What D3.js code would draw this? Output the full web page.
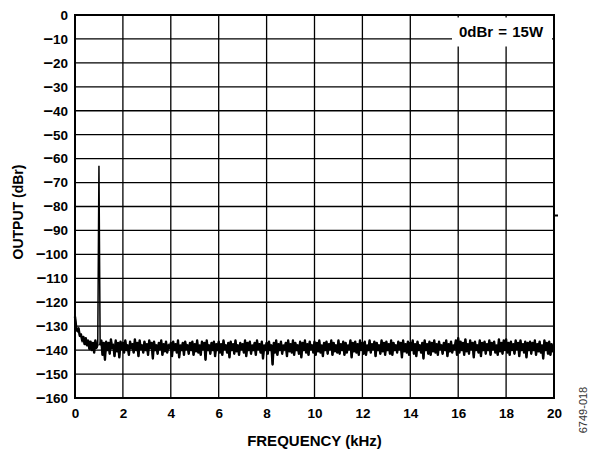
<!DOCTYPE html>
<html>
<head>
<meta charset="utf-8">
<script src="https://cdn.jsdelivr.net/npm/d3@7"></script>
<style>
  body { margin: 0; background: #fff; }
  svg text { font-family: "Liberation Sans", Arial, sans-serif; }
  .tick text { font-weight: bold; font-size: 13.5px; fill: #000; }
  .domain { display: none; }
</style>
</head>
<body>
<svg id="chart" width="589" height="450"></svg>
<script>
// frequency axis (kHz) and output axis (dBr)
const xTicks = [0, 2, 4, 6, 8, 10, 12, 14, 16, 18, 20]
const yTicks = [0, -10, -20, -30, -40, -50, -60, -70, -80, -90, -100, -110, -120, -130, -140, -150, -160]

// FFT output, one point every 0.05 kHz from 0 to 20 kHz
const freqStep = 0.05
const outputDbr = [
  -126, -130.5, -132, -131, -134, -133.5, -136, -134.5, -137.5, -135, -138, -136, -139.5, -136.5, -140, -137, -141, -136, -139, -137.5,
  -63, -138, -136, -142, -137, -144, -136.5, -140, -137, -141.5, -135.5, -139, -138, -142.5, -136, -140.5, -137, -143, -136.5, -139.5,
  -137, -141, -136, -140, -138, -142, -136.5, -139, -137.5, -141, -135.5, -140, -137, -142.5, -136, -139.5, -138, -141, -136.5, -140,
  -137.5, -142, -136, -139, -137, -143.5, -136.5, -140, -138, -141.5, -137, -139.5, -136, -142, -137.5, -140.5, -136.5, -141, -138, -139,
  -137, -142.5, -136.5, -140, -137.5, -141, -136, -143, -138, -140, -137, -142, -136.5, -139.5, -138, -141.5, -137, -140, -136.5, -142,
  -137.5, -140.5, -136, -141, -138, -142, -136.5, -139.5, -137, -144, -136, -140, -138, -141.5, -137, -140, -136.5, -142.5, -137.5, -140,
  -136.5, -141, -137.5, -142, -136, -139.5, -138, -141, -137, -143, -136.5, -140, -137.5, -141.5, -136, -140.5, -138, -142, -137, -139.5,
  -137.5, -141, -136, -142.5, -137, -140, -136.5, -141.5, -138, -140, -137, -142, -136, -139.5, -137.5, -141, -136.5, -143.5, -138, -140,
  -137, -141.5, -136.5, -140, -138, -146, -137, -141, -136, -142, -137.5, -140, -136.5, -141.5, -138, -139.5, -137, -142.5, -136, -140.5,
  -137.5, -141, -136, -142, -137, -140, -138, -141.5, -136.5, -143, -137, -140, -136, -141, -137.5, -142, -136.5, -139.5, -138, -141,
  -136.5, -142, -137, -140.5, -136, -141, -138, -142.5, -137, -140, -136.5, -141.5, -137.5, -139.5, -136, -142, -137, -140.5, -138, -141,
  -136, -141.5, -137.5, -140, -136.5, -142, -137, -141, -138, -139.5, -136, -143, -137, -140.5, -136.5, -141, -137.5, -142, -136, -140,
  -137, -141.5, -136.5, -142, -138, -140, -136, -141, -137.5, -139.5, -136.5, -142.5, -137, -140, -138, -141.5, -136, -140.5, -137, -142,
  -136.5, -140, -137.5, -141.5, -136, -142, -137, -140, -138, -141, -136.5, -139.5, -137, -143, -136, -140.5, -137.5, -141, -136.5, -142,
  -137, -140, -136, -141.5, -137.5, -142.5, -136.5, -140, -138, -141, -137, -143.5, -136, -140, -137.5, -141.5, -136.5, -142, -137, -140.5,
  -136, -141, -137.5, -142, -136.5, -139.5, -138, -141.5, -137, -140, -136, -142.5, -137.5, -140.5, -136.5, -141, -138, -139.5, -136, -142,
  -135, -141, -136.5, -140, -137, -142, -135.5, -140.5, -137.5, -141.5, -136, -139.5, -137, -143, -136.5, -140, -138, -141, -136, -142.5,
  -137, -140, -136.5, -141.5, -137.5, -140, -136, -142, -137, -139.5, -136.5, -141, -138, -142, -135.5, -140.5, -137, -141.5, -136, -140,
  -135.5, -141, -137, -142, -136.5, -140, -137.5, -141.5, -136, -139.5, -137, -142.5, -136, -140, -137.5, -141, -136.5, -143, -137, -140,
  -136.5, -141.5, -137, -140, -136, -142, -137.5, -140.5, -136.5, -141, -138, -143.5, -136, -140, -137, -141.5, -136.5, -142, -137.5, -140.5,
  -139
]

const legendText = '0dBr = 15W'

const svg = d3.select('#chart')
const plotLeft = 75, plotRight = 554, plotTop = 15, plotBottom = 398

const x = d3.scaleLinear().domain([0, 20]).range([plotLeft, plotRight])
const y = d3.scaleLinear().domain([-160, 0]).range([plotBottom, plotTop])

// grid
const grid = svg.append('g').attr('stroke', '#000').attr('stroke-width', 1.3)
grid.selectAll('.vg').data(xTicks.slice(1, -1)).join('line')
  .attr('x1', d => x(d)).attr('x2', d => x(d))
  .attr('y1', plotTop).attr('y2', plotBottom)
grid.selectAll('.hg').data(yTicks.slice(1, -1)).join('line')
  .attr('x1', plotLeft).attr('x2', plotRight)
  .attr('y1', d => y(d)).attr('y2', d => y(d))

// legend box blanks out the grid behind it
svg.append('rect')
  .attr('x', 452).attr('y', 17.5)
  .attr('width', 100).attr('height', 29)
  .attr('fill', '#fff')
svg.append('text')
  .attr('x', 501).attr('y', 36.5)
  .attr('text-anchor', 'middle')
  .attr('font-weight', 'bold').attr('font-size', '15px')
  .attr('word-spacing', '1px')
  .text(legendText)

// trace: thin line everywhere, heavier line over the noise floor
const pts = outputDbr.map((v, i) => [i * freqStep, v])
const line = d3.line().x(d => x(d[0])).y(d => y(d[1]))
svg.append('path')
  .datum(pts)
  .attr('fill', 'none')
  .attr('stroke', '#000')
  .attr('stroke-width', 1.5)
  .attr('d', line)
svg.append('path')
  .datum(pts)
  .attr('fill', 'none')
  .attr('stroke', '#000')
  .attr('stroke-width', 2.4)
  .attr('stroke-linejoin', 'round')
  .attr('d', line.defined(d => d[1] < -100))

// frame
svg.append('rect')
  .attr('x', plotLeft).attr('y', plotTop)
  .attr('width', plotRight - plotLeft).attr('height', plotBottom - plotTop)
  .attr('fill', 'none').attr('stroke', '#000').attr('stroke-width', 2)

// small marker on right edge
svg.append('line')
  .attr('x1', plotRight).attr('x2', plotRight + 4)
  .attr('y1', 215.5).attr('y2', 215.5)
  .attr('stroke', '#000').attr('stroke-width', 2)

// axes (labels only)
svg.append('g')
  .attr('transform', `translate(0,${plotBottom})`)
  .call(d3.axisBottom(x).tickValues(xTicks).tickSize(0).tickPadding(10).tickFormat(d3.format('d')))

const yAxis = svg.append('g')
  .attr('transform', `translate(${plotLeft},0)`)
  .call(d3.axisLeft(y).tickValues(yTicks).tickSize(0).tickPadding(7).tickFormat(d => String(Math.abs(d))))

// wide dash in front of negative labels
yAxis.selectAll('.tick text').each(function (d) {
  if (d >= 0) return
  const t = d3.select(this)
  const digits = t.text()
  t.text('')
  t.append('tspan').attr('font-size', '17px').text('\u2013')
  t.append('tspan').text(digits)
})

// titles
svg.append('text')
  .attr('x', (plotLeft + plotRight) / 2).attr('y', 446)
  .attr('text-anchor', 'middle')
  .attr('font-weight', 'bold').attr('font-size', '15px')
  .text('FREQUENCY (kHz)')
svg.append('text')
  .attr('transform', `translate(23,212) rotate(-90)`)
  .attr('text-anchor', 'middle')
  .attr('font-weight', 'bold').attr('font-size', '14px')
  .text('OUTPUT (dBr)')
svg.append('text')
  .attr('transform', 'translate(587,410) rotate(-90)')
  .attr('text-anchor', 'middle')
  .attr('font-size', '11px')
  .attr('fill', '#333')
  .text('6749-018')
</script>
</body>
</html>
